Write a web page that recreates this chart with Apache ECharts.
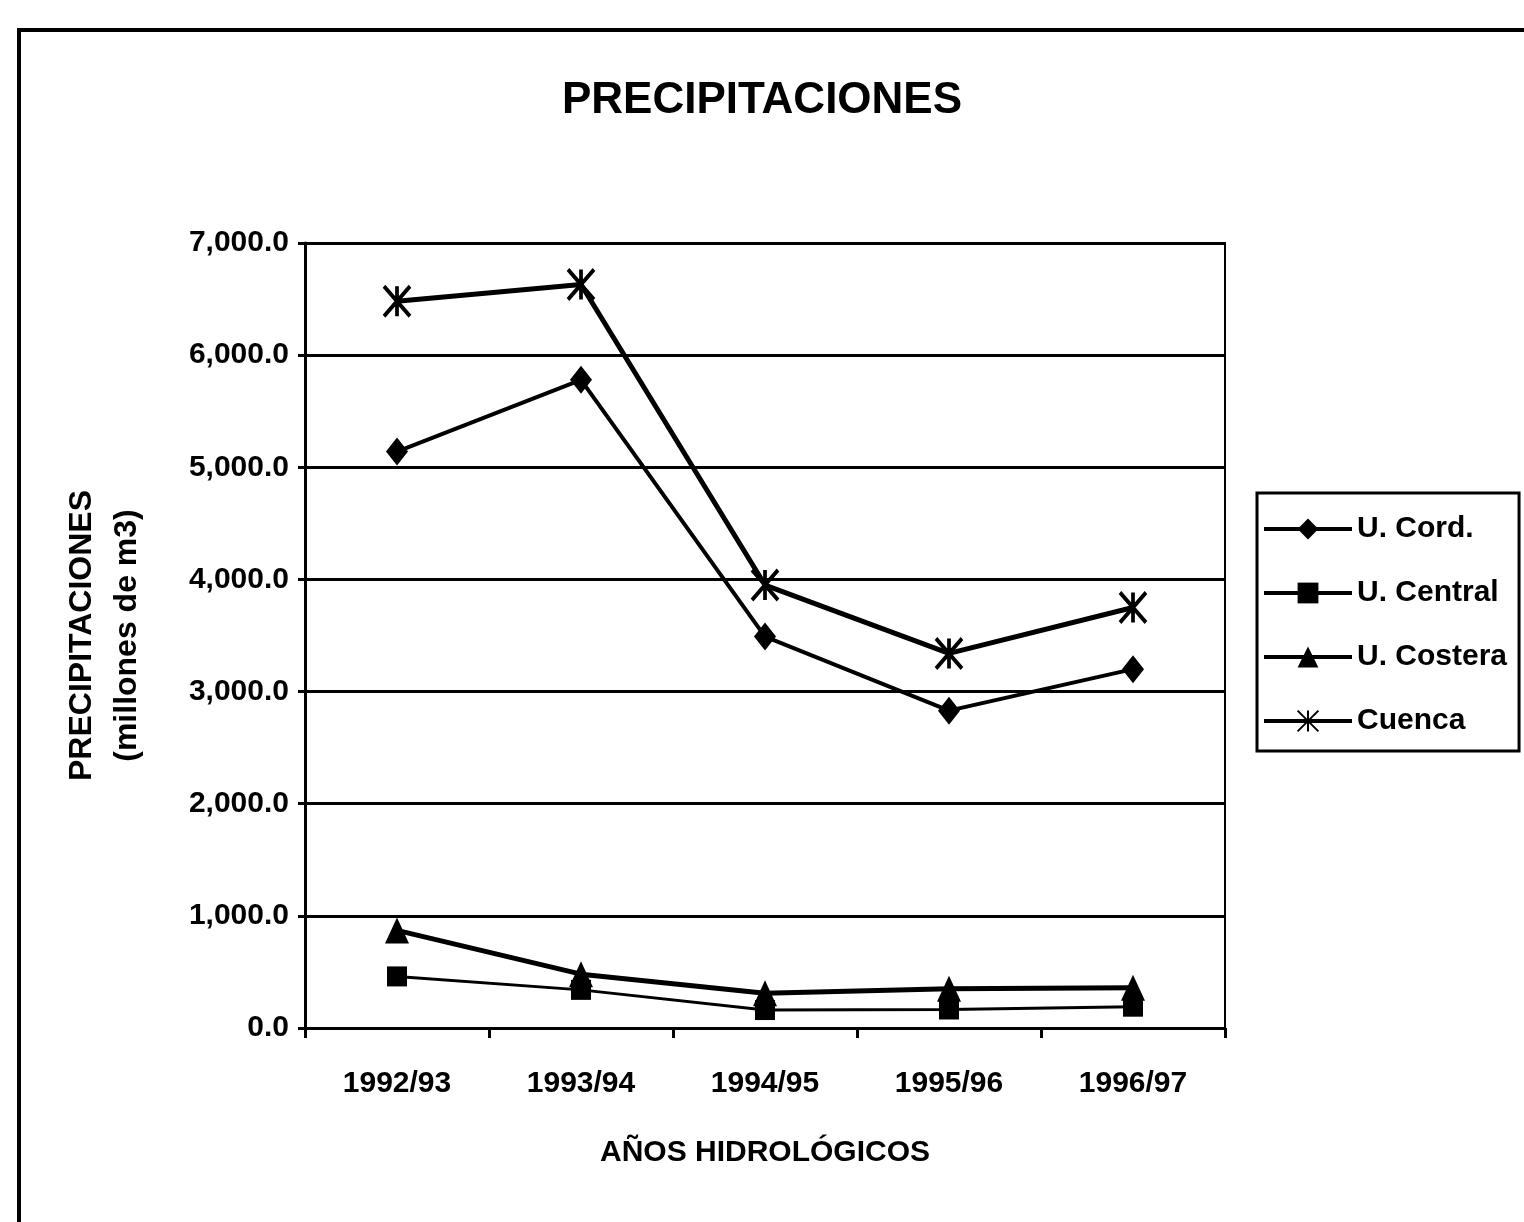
<!DOCTYPE html>
<html>
<head>
<meta charset="utf-8">
<script src="https://cdn.jsdelivr.net/npm/echarts@6/dist/echarts.min.js"></script>
<style>
  html, body { margin: 0; padding: 0; background: #fff; }
  #chart { width: 1524px; height: 1222px; }
</style>
</head>
<body>
<div id="chart"></div>
<script>
const years = ['1992/93', '1993/94', '1994/95', '1995/96', '1996/97']
const uCord = [5140, 5780, 3490, 2830, 3200]
const uCentral = [460, 340, 160, 165, 190]
const uCostera = [870, 480, 310, 350, 360]
const cuenca = [6480, 6630, 3950, 3340, 3750]
const yTicks = ['0.0', '1,000.0', '2,000.0', '3,000.0', '4,000.0', '5,000.0', '6,000.0', '7,000.0']

const font = "'Liberation Sans', Arial, sans-serif"
const chart = echarts.init(document.getElementById('chart'))

function lineSeries(name, data, symbol, size, width, extra) {
  return Object.assign({
    name: name,
    type: 'line',
    data: data,
    symbol: symbol,
    symbolSize: size,
    showAllSymbol: true,
    lineStyle: { color: '#000', width: width },
    itemStyle: { color: '#000' },
    emphasis: { disabled: true },
    z: 5
  }, extra || {})
}

chart.setOption({
  backgroundColor: '#fff',
  animation: false,
  title: {
    text: 'PRECIPITACIONES',
    left: 'center',
    top: 74,
    textStyle: { fontFamily: font, fontWeight: 'bold', fontSize: 44, color: '#000' }
  },
  graphic: [{
    type: 'rect',
    shape: { x: 19, y: 30, width: 1600, height: 1400 },
    style: { fill: 'none', stroke: '#000', lineWidth: 4 },
    silent: true
  }],
  legend: {
    orient: 'vertical',
    left: 1257,
    top: 493,
    padding: [21, 12, 15, 5],
    itemGap: 34,
    itemWidth: 88,
    itemHeight: 26,
    borderColor: '#000',
    borderWidth: 3,
    lineStyle: { width: 4 },
    textStyle: { fontFamily: font, fontWeight: 'bold', fontSize: 30, color: '#000', lineHeight: 30 },
    data: ['U. Cord.', 'U. Central', 'U. Costera', 'Cuenca']
  },
  grid: {
    left: 305,
    right: 299,
    top: 243,
    bottom: 194,
    show: true,
    borderColor: '#000',
    borderWidth: 2
  },
  xAxis: {
    type: 'category',
    data: years,
    boundaryGap: true,
    name: 'AÑOS HIDROLÓGICOS',
    nameLocation: 'middle',
    nameGap: 110,
    nameTextStyle: { fontFamily: font, fontWeight: 'bold', fontSize: 30, color: '#000' },
    axisLine: { lineStyle: { color: '#000', width: 3 } },
    axisTick: { show: true, length: 10, lineStyle: { color: '#000', width: 3 } },
    axisLabel: { margin: 41, fontFamily: font, fontWeight: 'bold', fontSize: 30, color: '#000' }
  },
  yAxis: {
    type: 'value',
    min: 0,
    max: 7000,
    interval: 1000,
    name: 'PRECIPITACIONES\n(millones de m3)',
    nameLocation: 'middle',
    nameGap: 155,
    nameRotate: 90,
    nameTextStyle: { fontFamily: font, fontWeight: 'bold', fontSize: 32, color: '#000', lineHeight: 45, align: 'center' },
    axisLine: { show: true, lineStyle: { color: '#000', width: 3 } },
    axisTick: { show: true, length: 7, lineStyle: { color: '#000', width: 3 } },
    splitLine: { lineStyle: { color: '#000', width: 3 } },
    axisLabel: {
      margin: 16,
      fontFamily: font,
      fontWeight: 'bold',
      fontSize: 30,
      color: '#000',
      formatter: function (v) { return yTicks[Math.round(v / 1000)] }
    }
  },
  series: [
    lineSeries('U. Cord.', uCord, 'diamond', [22, 28], 4),
    lineSeries('U. Central', uCentral, 'rect', 20, 3),
    lineSeries('U. Costera', uCostera, 'triangle', [24, 26], 5),
    lineSeries('Cuenca', cuenca, 'path://M0,0L10,10M10,0L0,10M5,0L5,10', [26, 30], 5, {
      itemStyle: { color: 'none', borderColor: '#000', borderWidth: 4 }
    })
  ]
})
</script>
</body>
</html>
